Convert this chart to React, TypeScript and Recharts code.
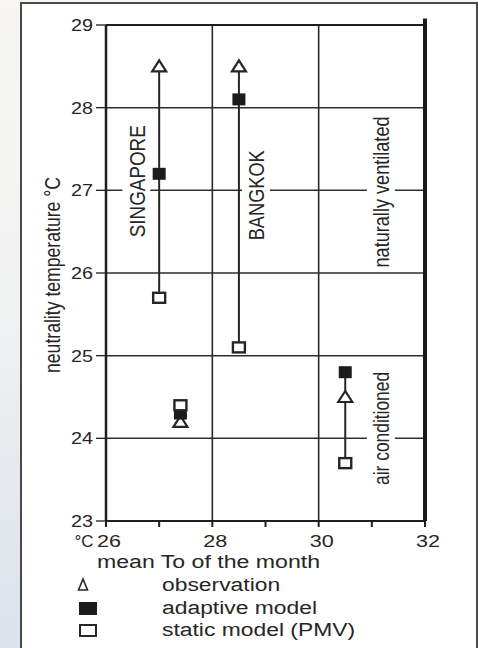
import React from 'react';
import {
  ComposedChart, Scatter, XAxis, YAxis, CartesianGrid, ReferenceLine, ReferenceDot, Legend,
} from 'recharts';

// --- DATA: neutrality temperature vs mean outdoor temperature of the month ---

const cases = ['Singapore NV', 'Bangkok NV', 'Singapore AC', 'Bangkok AC'];
const meanTo = [27.0, 28.5, 27.4, 30.5];
const observation = [28.5, 28.5, 24.2, 24.5];
const adaptiveModel = [27.2, 28.1, 24.3, 24.8];
const staticModel = [25.7, 25.1, 24.4, 23.7];

const xTicks = [26, 27, 28, 29, 30, 31, 32];
const xLabelled = [26, 28, 30, 32];
const yTicks = [23, 24, 25, 26, 27, 28, 29];
const seriesNames = ['observation', 'adaptive model', 'static model (PMV)'];

// rotated notes on the plot (anchored in data units)
const notes = [
  { text: 'SINGAPORE', x: 26.57, y: 27.11, len: 112 },
  { text: 'BANGKOK', x: 28.82, y: 26.94, len: 90 },
  { text: 'naturally ventilated', x: 31.17, y: 26.98, len: 151 },
  { text: 'air conditioned', x: 31.17, y: 24.12, len: 113 },
];

const FONT = '"Liberation Sans", Arial, Helvetica, sans-serif';
const INK = '#262626';
const SX = 1.27; // the scan is stretched sideways

const obsData = cases.map((c, i) => ({ name: c, x: meanTo[i], y: observation[i] }));
const adaptData = cases.map((c, i) => ({ name: c, x: meanTo[i], y: adaptiveModel[i] }));
const staticData = cases.map((c, i) => ({ name: c, x: meanTo[i], y: staticModel[i] }));

const Triangle = (p: any) => (
  <polygon
    points={`${p.cx},${p.cy - 6} ${p.cx - 7},${p.cy + 5} ${p.cx + 7},${p.cy + 5}`}
    fill="#fff" stroke={INK} strokeWidth={2.2}
  />
);
const FilledSquare = (p: any) => (
  <rect x={p.cx - 6.5} y={p.cy - 6} width={13} height={12} fill="#1c1c1c" />
);
const OpenSquare = (p: any) => (
  <rect x={p.cx - 6} y={p.cy - 5} width={12} height={10} fill="#fff" stroke={INK} strokeWidth={2.4} />
);

const RotatedText = ({ cx, cy, text, len, size = 18, bg = true }: any) => (
  <g transform={`translate(${cx},${cy}) scale(${SX},1) rotate(-90)`}>
    {bg && <rect x={-len / 2 - 4} y={-size / 2 - 2} width={len + 8} height={size + 4} fill="#fff" />}
    <text
      x={0} y={0} textAnchor="middle" dominantBaseline="central"
      fontSize={size} fontFamily={FONT} fill={INK}
      textLength={len} lengthAdjust="spacingAndGlyphs"
    >
      {text}
    </text>
  </g>
);

const XTick = (props: any) => {
  const { x, y, payload } = props;
  const v = payload.value;
  if (!xLabelled.includes(v)) return null;
  return (
    <g fontFamily={FONT} fill={INK} fontSize={17}>
      {v === 26 && (
        <text x={x - 22} y={y + 18} textAnchor="middle" textLength={19} lengthAdjust="spacingAndGlyphs">°C</text>
      )}
      <text x={x + 3} y={y + 18} textAnchor="middle" textLength={24} lengthAdjust="spacingAndGlyphs">{v}</text>
    </g>
  );
};

const YTick = (props: any) => {
  const { x, y, payload } = props;
  return (
    <text
      x={x - 1} y={y + 6} textAnchor="end" fontFamily={FONT} fill={INK} fontSize={16.5}
      textLength={22} lengthAdjust="spacingAndGlyphs"
    >
      {payload.value}
    </text>
  );
};

const legendIcon = (i: number) => {
  if (i === 0) return <polygon points="9,5 4.5,16 13.5,16" fill="#fff" stroke={INK} strokeWidth={1.6} />;
  if (i === 1) return <rect x={5} y={5} width={18} height={13} fill="#1c1c1c" />;
  return <rect x={6} y={6} width={16} height={11} fill="#fff" stroke={INK} strokeWidth={2} />;
};

// legend keeps the order of the key in the figure
const LegendBox = () => (
  <div style={{ fontFamily: FONT, color: INK }}>
    {seriesNames.map((name, i) => (
      <div key={name} style={{ position: 'relative', height: 22.5 }}>
        <svg width={28} height={22} style={{ position: 'absolute', left: 74, top: 0 }}>{legendIcon(i)}</svg>
        <span
          style={{
            position: 'absolute', left: 162, top: 0, fontSize: 18, lineHeight: '22.5px',
            whiteSpace: 'nowrap', transform: `scaleX(${SX})`, transformOrigin: 'left center',
          }}
        >
          {name}
        </span>
      </div>
    ))}
  </div>
);

export default function App() {
  return (
    <div
      style={{
        position: 'absolute', left: 0, top: 0, width: 478, height: 648, overflow: 'hidden',
        background: 'linear-gradient(180deg, #f7f6f2 0%, #f1f2f2 45%, #dbe2ea 100%)',
      }}
    >
      <div
        style={{
          position: 'absolute', left: 20, top: 2, width: 454, height: 660,
          border: '2px solid #4a4a4a', background: '#fff',
        }}
      />
      <div style={{ position: 'absolute', left: 0, top: 0 }}>
        <ComposedChart width={478} height={648} margin={{ top: 25, right: 53, bottom: 87, left: 46 }}>
          <CartesianGrid vertical={false} stroke="#2e2e2e" strokeWidth={1.5} />
          <XAxis
            type="number" dataKey="x" domain={[26, 32]} ticks={xTicks} interval={0}
            tick={<XTick />} tickSize={6} height={40}
            axisLine={{ stroke: '#1e1e1e', strokeWidth: 2.2 }} tickLine={{ stroke: '#1e1e1e', strokeWidth: 2 }}
            label={{
              content: (p: any) => {
                const vb = p.viewBox || { x: 106, y: 521 };
                return (
                  <text
                    x={vb.x - 9} y={vb.y + 47} fontFamily={FONT} fontSize={18} fill={INK}
                    textLength={223} lengthAdjust="spacingAndGlyphs"
                  >
                    mean To of the month
                  </text>
                );
              },
            }}
          />
          <YAxis
            type="number" dataKey="y" domain={[23, 29]} ticks={yTicks} interval={0}
            width={60} tickSize={10} tick={<YTick />}
            axisLine={{ stroke: '#1e1e1e', strokeWidth: 2.5 }} tickLine={{ stroke: '#1e1e1e', strokeWidth: 1.3 }}
            label={{
              content: (p: any) => {
                const vb = p.viewBox || { x: 46, y: 25, height: 496 };
                return (
                  <RotatedText
                    cx={vb.x + 6} cy={vb.y + vb.height / 2 + 2}
                    text="neutrality temperature °C" len={196} size={17.5} bg={false}
                  />
                );
              },
            }}
          />
          <ReferenceLine x={28} stroke="#2a2a2a" strokeWidth={1.6} />
          <ReferenceLine x={30} stroke="#2a2a2a" strokeWidth={1.6} />
          <ReferenceLine y={29} stroke="#1e1e1e" strokeWidth={2.2} />
          <ReferenceLine
            segment={[{ x: 32, y: 23 }, { x: 32, y: 29.08 }]}
            stroke="#1a1a1a" strokeWidth={4} ifOverflow="visible"
          />

          {notes.map((n) => (
            <ReferenceDot
              key={n.text} x={n.x} y={n.y} r={1}
              shape={(p: any) => <RotatedText cx={p.cx} cy={p.cy} text={n.text} len={n.len} />}
            />
          ))}

          {cases.map((c, i) => {
            const vals = [observation[i], adaptiveModel[i], staticModel[i]];
            return (
              <ReferenceLine
                key={c}
                segment={[{ x: meanTo[i], y: Math.max(...vals) }, { x: meanTo[i], y: Math.min(...vals) }]}
                stroke={INK} strokeWidth={2}
              />
            );
          })}

          <Scatter name={seriesNames[0]} data={obsData} shape={Triangle} isAnimationActive={false} />
          <Scatter name={seriesNames[1]} data={adaptData} shape={FilledSquare} isAnimationActive={false} />
          <Scatter name={seriesNames[2]} data={staticData} shape={OpenSquare} isAnimationActive={false} />

          <Legend
            layout="vertical" align="center" verticalAlign="middle"
            wrapperStyle={{ left: 0, top: 574, width: 478, height: 70 }}
            content={<LegendBox />}
          />
        </ComposedChart>
      </div>
    </div>
  );
}
